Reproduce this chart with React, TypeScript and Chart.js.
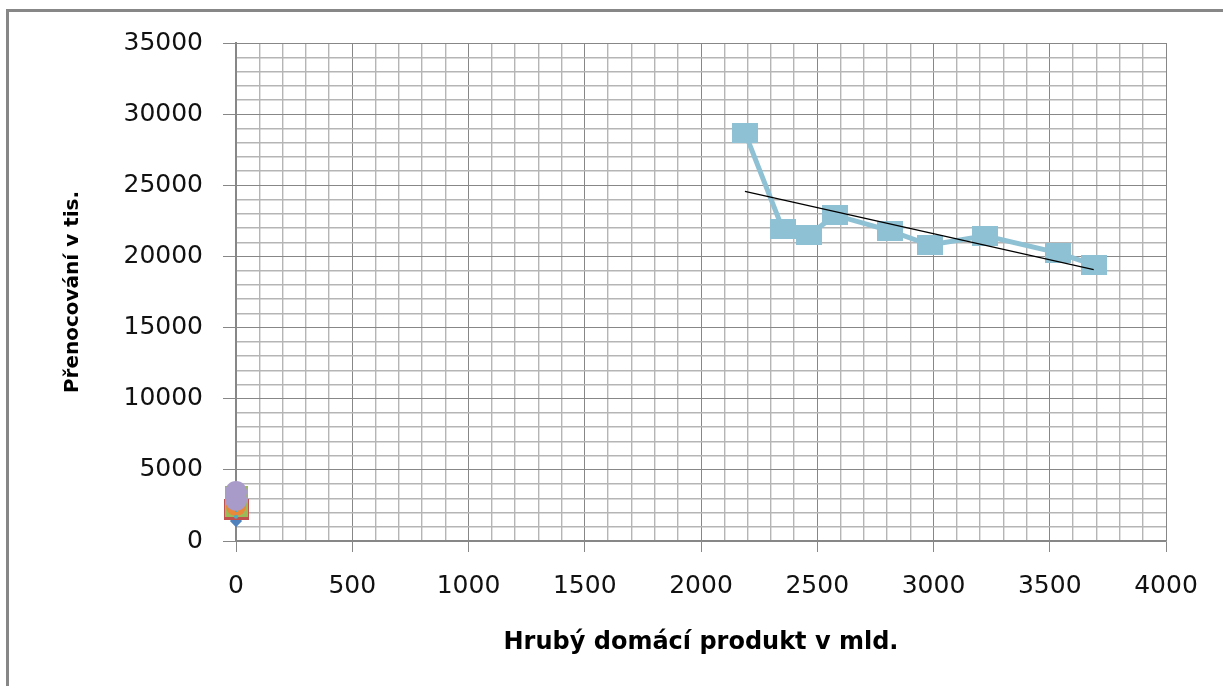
import React, { useEffect, useRef } from 'react';
import { Chart, registerables } from 'chart.js';

Chart.register(...registerables);

// GDP (bn) vs. overnight stays (thousands)
const gdp = [2189, 2352, 2464, 2577, 2814, 2984, 3222, 3536, 3689];
const stays = [28700, 21900, 21500, 22900, 21800, 20800, 21450, 20250, 19400];

// small series sitting at the very start of the GDP axis
const clusterX = 0;
const blueY = [1400, 2200];
const redY = [2180];
const greenY = [2320, 3230];
const orangeY = [2670, 2450];
const purpleY = [3440, 2900];
const aquaY = [3100, 1700];

// axis ranges and labelled ticks
const xMin = 0;
const xMax = 4000;
const xStep = 100;
const xLabels = [0, 500, 1000, 1500, 2000, 2500, 3000, 3500, 4000];
const yMin = 0;
const yMax = 35000;
const yStep = 1000;
const yLabels = [0, 5000, 10000, 15000, 20000, 25000, 30000, 35000];

const xTitle = 'Hrubý domácí produkt v mld.';
const yTitle = 'Přenocování v tis.';

const MAJOR = '#878787';
const MINOR = '#b5b5b5';
const FONT = 'DejaVu Sans';

function boxMarker(w: number, h: number, color: string): HTMLCanvasElement {
  const c = document.createElement('canvas');
  c.width = w;
  c.height = h;
  const g = c.getContext('2d')!;
  g.fillStyle = color;
  g.fillRect(0, 0, w, h);
  return c;
}

// least-squares trend over the main series
function trend(xs: number[], ys: number[]) {
  const n = xs.length;
  const mx = xs.reduce((a, b) => a + b, 0) / n;
  const my = ys.reduce((a, b) => a + b, 0) / n;
  let sxy = 0;
  let sxx = 0;
  for (let i = 0; i < n; i++) {
    sxy += (xs[i] - mx) * (ys[i] - my);
    sxx += (xs[i] - mx) * (xs[i] - mx);
  }
  const slope = sxy / sxx;
  const x0 = Math.min(...xs);
  const x1 = Math.max(...xs);
  return [
    { x: x0, y: my + slope * (x0 - mx) },
    { x: x1, y: my + slope * (x1 - mx) },
  ];
}

const atX = (ys: number[]) => ys.map((y) => ({ x: clusterX, y }));

export default function App() {
  const ref = useRef<HTMLCanvasElement>(null);

  useEffect(() => {
    if (!ref.current) return;
    const mainColor = '#8fc1d4';
    const chart = new Chart(ref.current, {
      type: 'line',
      data: {
        datasets: [
          {
            label: 'blue',
            data: atX(blueY),
            borderColor: '#4f81bd',
            backgroundColor: '#4f81bd',
            borderWidth: 3,
            pointStyle: 'rectRot',
            pointRadius: 4,
            clip: false as any,
            order: 8,
          },
          {
            label: 'red',
            data: atX(redY),
            borderColor: '#c0504d',
            pointStyle: boxMarker(25, 21, '#c0504d') as any,
            pointRadius: 11,
            clip: false as any,
            order: 7,
          },
          {
            label: 'green',
            data: atX(greenY),
            borderColor: '#9bbb59',
            borderWidth: 3,
            pointStyle: boxMarker(23, 18, '#9bbb59') as any,
            pointRadius: 11,
            clip: false as any,
            order: 6,
          },
          {
            label: 'orange',
            data: atX(orangeY),
            borderColor: '#e8893a',
            backgroundColor: '#e8893a',
            borderWidth: 4,
            pointStyle: 'circle',
            pointRadius: 10,
            pointBorderWidth: 0,
            clip: false as any,
            order: 5,
          },
          {
            label: 'aqua',
            data: atX(aquaY),
            borderColor: '#4bacc6',
            backgroundColor: '#4bacc6',
            borderWidth: 2,
            borderDash: [3, 3],
            pointRadius: 1,
            clip: false as any,
            order: 4,
          },
          {
            label: 'purple',
            data: atX(purpleY),
            borderColor: '#a99bc9',
            backgroundColor: '#a99bc9',
            borderWidth: 4,
            pointStyle: 'circle',
            pointRadius: 11,
            pointBorderWidth: 0,
            clip: false as any,
            order: 3,
          },
          {
            label: yTitle,
            data: gdp.map((x, i) => ({ x, y: stays[i] })),
            borderColor: mainColor,
            backgroundColor: mainColor,
            borderWidth: 5,
            pointStyle: boxMarker(26, 20, mainColor) as any,
            pointRadius: 12,
            order: 2,
          },
          {
            label: 'trend',
            data: trend(gdp, stays),
            borderColor: '#000000',
            borderWidth: 1.3,
            pointRadius: 0,
            order: 1,
          },
        ],
      },
      options: {
        animation: false,
        responsive: false,
        events: [],
        layout: { padding: { left: 0, top: 43, right: 57, bottom: 0 } },
        plugins: {
          legend: { display: false },
          tooltip: { enabled: false },
        },
        scales: {
          x: {
            type: 'linear',
            min: xMin,
            max: xMax,
            ticks: {
              stepSize: xStep,
              autoSkip: false,
              maxRotation: 0,
              padding: 19,
              color: '#111',
              font: { family: FONT, size: 25 },
              callback: (v: any) => (xLabels.includes(Number(v)) ? String(v) : ''),
            },
            grid: {
              color: (c: any) => (xLabels.includes(c.tick?.value) ? MAJOR : MINOR),
              lineWidth: (c: any) => (xLabels.includes(c.tick?.value) ? 1 : 1.4),
              tickLength: 11,
              tickColor: (c: any) => (xLabels.includes(c.tick?.value) ? MAJOR : 'rgba(0,0,0,0)'),
              tickWidth: 1,
            },
            border: { color: MAJOR, width: 1.5 },
            title: {
              display: true,
              text: xTitle,
              color: '#000',
              font: { family: FONT, size: 24, weight: 'bold' },
              padding: { top: 0, bottom: 29 },
            },
            afterFit: (s: any) => {
              s.height = 145;
            },
          },
          y: {
            type: 'linear',
            min: yMin,
            max: yMax,
            ticks: {
              stepSize: yStep,
              autoSkip: false,
              padding: 20,
              color: '#111',
              font: { family: FONT, size: 25 },
              callback: (v: any) => (yLabels.includes(Number(v)) ? String(v) : ''),
            },
            grid: {
              color: (c: any) => (yLabels.includes(c.tick?.value) ? MAJOR : MINOR),
              lineWidth: (c: any) => (yLabels.includes(c.tick?.value) ? 1 : 1.4),
              tickLength: 13,
              tickColor: (c: any) => (yLabels.includes(c.tick?.value) ? MAJOR : 'rgba(0,0,0,0)'),
              tickWidth: 1,
            },
            border: { color: MAJOR, width: 2 },
            title: {
              display: true,
              text: yTitle,
              color: '#000',
              font: { family: FONT, size: 20, weight: 'bold' },
              padding: { top: 61, bottom: 0 },
            },
            afterFit: (s: any) => {
              s.width = 236;
            },
          },
        },
      } as any,
    });
    return () => chart.destroy();
  }, []);

  return (
    <div
      style={{
        position: 'fixed',
        left: 0,
        top: 0,
        width: 1223,
        height: 686,
        overflow: 'hidden',
        background: '#fff',
      }}
    >
      <div
        style={{
          position: 'absolute',
          left: 6,
          top: 9,
          width: 1400,
          height: 900,
          borderTop: `3px solid ${MAJOR}`,
          borderLeft: `3px solid ${MAJOR}`,
        }}
      />
      <canvas
        ref={ref}
        width={1223}
        height={686}
        style={{ position: 'absolute', left: 0, top: 0, display: 'block' }}
      />
    </div>
  );
}
